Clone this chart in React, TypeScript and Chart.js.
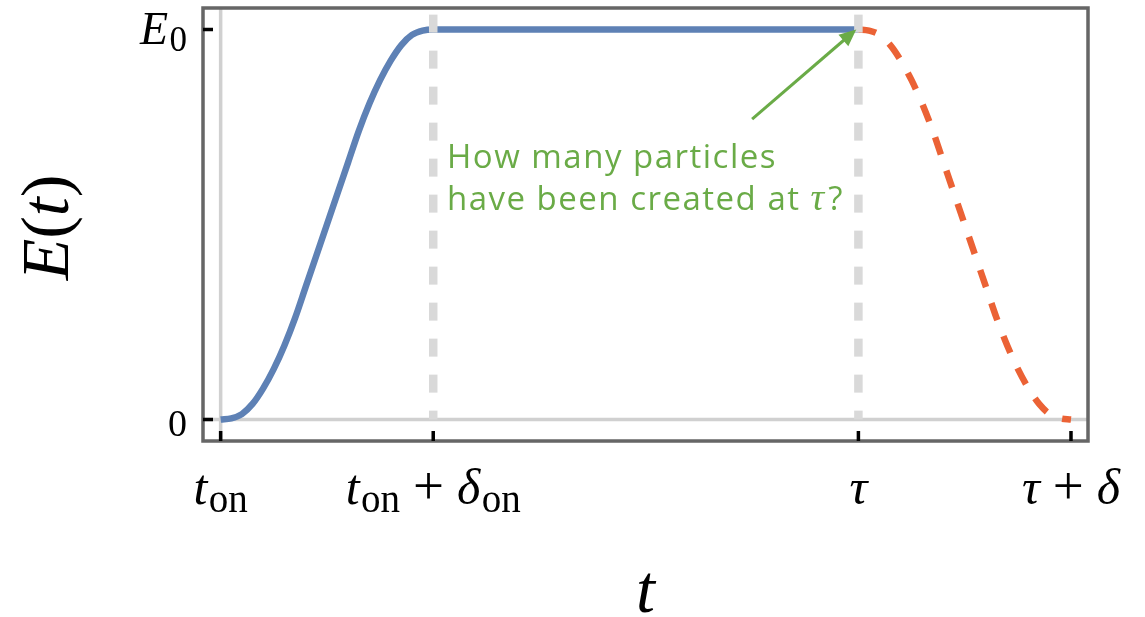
import React, { useEffect, useRef } from "react";
import { Chart, registerables } from "chart.js";

Chart.register(...registerables);

// Switch-on ramp of E(t)/E0 with t_on = 0, δ_on = 1, then the plateau up to τ = 3
const rampTimes = [0, 0.05, 0.1, 0.15, 0.2, 0.25, 0.3, 0.35, 0.4, 0.45, 0.5, 0.55, 0.6, 0.65, 0.7, 0.75, 0.8, 0.85, 0.9, 0.95, 1.0, 3.0];
const rampField = [0, 0.003, 0.014, 0.04, 0.08, 0.13, 0.19, 0.26, 0.34, 0.42, 0.5, 0.58, 0.66, 0.74, 0.81, 0.87, 0.92, 0.96, 0.986, 0.997, 1, 1];

// Switch-off from τ = 3 down to zero at τ + δ = 4
const offTimes = [3.0, 3.05, 3.1, 3.15, 3.2, 3.25, 3.3, 3.35, 3.4, 3.45, 3.5, 3.55, 3.6, 3.65, 3.7, 3.75, 3.8, 3.85, 3.9, 3.95, 4.0];
const offField = [1, 0.997, 0.986, 0.96, 0.92, 0.87, 0.81, 0.74, 0.66, 0.58, 0.5, 0.42, 0.34, 0.26, 0.19, 0.13, 0.08, 0.04, 0.014, 0.003, 0];

// Dashed guides at t_on + δ_on and τ
const guideTimes = [1, 3];
const guideTop = 1.038;

// Axis ranges
const X_MIN = -0.083;
const X_MAX = 4.08;
const Y_MIN = -0.055;
const Y_MAX = 1.055;

type Part = { t: string; s: "i" | "r" | "sub" | "op" };

const xTickValues = [0, 1, 3, 4];
const xTickLabels: Part[][] = [
  [{ t: "t", s: "i" }, { t: "on", s: "sub" }],
  [{ t: "t", s: "i" }, { t: "on", s: "sub" }, { t: "+", s: "op" }, { t: "δ", s: "i" }, { t: "on", s: "sub" }],
  [{ t: "τ", s: "i" }],
  [{ t: "τ", s: "i" }, { t: "+", s: "op" }, { t: "δ", s: "i" }],
];

const yTickValues = [0, 1];
const yTickLabels: Part[][] = [
  [{ t: "0", s: "r" }],
  [{ t: "E", s: "i" }, { t: "0", s: "sub" }],
];
const yTickSizes = [38, 46];

const xTitle: Part[] = [{ t: "t", s: "i" }];
const yTitle: Part[] = [{ t: "E", s: "i" }, { t: "(", s: "r" }, { t: "t", s: "i" }, { t: ")", s: "r" }];

const noteLines = ["How many particles", "have been created at "];
const noteSymbol = "τ";
const noteTail = "?";
const noteAnchor = { x: 1.0645, y1: 0.646, y2: 0.536 };
const arrowFrom = { x: 2.5, y: 0.77 };
const arrowTo = { x: 2.99, y: 1.0 };

const SERIF = '"Liberation Serif", "Times New Roman", serif';
const SANS = '"Open Sans", "Noto Sans", sans-serif';
const GREEN = "#6aab47";

function drawMath(
  ctx: CanvasRenderingContext2D,
  parts: Part[],
  x: number,
  baseline: number,
  align: "center" | "right" | "left",
  size: number,
  subSize: number
) {
  const pieces = parts.map((p) => {
    let font = `${size}px ${SERIF}`;
    if (p.s === "i") font = `italic ${size}px ${SERIF}`;
    if (p.s === "sub") font = `${subSize}px ${SERIF}`;
    if (p.s === "op") font = `${Math.round(size * 1.1)}px ${SERIF}`;
    ctx.font = font;
    const w = ctx.measureText(p.t).width;
    const pad = p.s === "op" ? size * 0.26 : 0;
    const dy = p.s === "sub" ? size * 0.15 : 0;
    const pre = p.s === "sub" ? size * 0.03 : 0;
    return { font, w, pad, dy, pre, t: p.t };
  });
  const total = pieces.reduce((s, p) => s + p.w + 2 * p.pad + p.pre, 0);
  let cx = align === "center" ? x - total / 2 : align === "right" ? x - total : x;
  ctx.textAlign = "left";
  ctx.textBaseline = "alphabetic";
  pieces.forEach((p) => {
    ctx.font = p.font;
    ctx.fillText(p.t, cx + p.pad + p.pre, baseline + p.dy);
    cx += p.w + 2 * p.pad + p.pre;
  });
}

const decorations = {
  id: "decorations",
  afterDraw(chart: any) {
    const { ctx, chartArea: a, scales } = chart;
    const xs = scales.x;
    const ys = scales.y;
    ctx.save();

    // frame
    ctx.strokeStyle = "#666666";
    ctx.lineWidth = 3.5;
    ctx.strokeRect(a.left, a.top, a.right - a.left, a.bottom - a.top);

    // inward ticks
    ctx.strokeStyle = "#000000";
    ctx.lineWidth = 3.5;
    ctx.beginPath();
    xTickValues.forEach((v) => {
      const px = xs.getPixelForValue(v);
      ctx.moveTo(px, a.bottom);
      ctx.lineTo(px, a.bottom - 10);
    });
    yTickValues.forEach((v) => {
      const py = ys.getPixelForValue(v);
      ctx.moveTo(a.left, py);
      ctx.lineTo(a.left + 10, py);
    });
    ctx.stroke();

    // tick labels
    ctx.fillStyle = "#000000";
    xTickValues.forEach((v, i) => {
      drawMath(ctx, xTickLabels[i], xs.getPixelForValue(v), a.bottom + 63, "center", 50, 39);
    });
    yTickValues.forEach((v, i) => {
      const py = ys.getPixelForValue(v);
      const size = yTickSizes[i];
      drawMath(ctx, yTickLabels[i], a.left - 16, py + (i === 0 ? 16 : 15), "right", size, 35);
    });

    // axis titles
    drawMath(ctx, xTitle, (a.left + a.right) / 2, 612, "center", 68, 40);
    ctx.save();
    ctx.translate(68, (a.top + a.bottom) / 2 + 3);
    ctx.rotate(-Math.PI / 2);
    drawMath(ctx, yTitle, 0, 0, "center", 68, 40);
    ctx.restore();

    // annotation text
    const nx = xs.getPixelForValue(noteAnchor.x);
    const ny1 = ys.getPixelForValue(noteAnchor.y1);
    const ny2 = ys.getPixelForValue(noteAnchor.y2);
    ctx.fillStyle = GREEN;
    ctx.textAlign = "left";
    ctx.textBaseline = "alphabetic";
    (ctx as any).letterSpacing = "1.5px";
    ctx.font = `33px ${SANS}`;
    ctx.fillText(noteLines[0], nx, ny1);
    ctx.fillText(noteLines[1], nx, ny2);
    let tx = nx + ctx.measureText(noteLines[1]).width;
    (ctx as any).letterSpacing = "0px";
    ctx.font = `italic 38px ${SERIF}`;
    ctx.fillText(noteSymbol, tx, ny2);
    tx += ctx.measureText(noteSymbol).width + 4;
    ctx.font = `33px ${SANS}`;
    ctx.fillText(noteTail, tx, ny2);

    // arrow
    const x0 = xs.getPixelForValue(arrowFrom.x);
    const y0 = ys.getPixelForValue(arrowFrom.y);
    const x1 = xs.getPixelForValue(arrowTo.x);
    const y1 = ys.getPixelForValue(arrowTo.y);
    const ang = Math.atan2(y1 - y0, x1 - x0);
    const headLen = 17;
    const headW = 7.5;
    const bx = x1 - headLen * Math.cos(ang);
    const by = y1 - headLen * Math.sin(ang);
    ctx.strokeStyle = GREEN;
    ctx.lineWidth = 3;
    ctx.beginPath();
    ctx.moveTo(x0, y0);
    ctx.lineTo(bx + 2 * Math.cos(ang), by + 2 * Math.sin(ang));
    ctx.stroke();
    ctx.beginPath();
    ctx.moveTo(x1, y1);
    ctx.lineTo(bx + headW * Math.sin(ang), by - headW * Math.cos(ang));
    ctx.lineTo(bx - headW * Math.sin(ang), by + headW * Math.cos(ang));
    ctx.closePath();
    ctx.fillStyle = GREEN;
    ctx.fill();

    ctx.restore();
  },
};

export default function App() {
  const ref = useRef<HTMLCanvasElement>(null);

  useEffect(() => {
    const canvas = ref.current;
    if (!canvas) return;

    const straight = { tension: 0, pointRadius: 0, borderCapStyle: "butt" as const };

    const chart = new Chart(canvas, {
      type: "line",
      data: {
        datasets: [
          {
            label: "axis-t",
            data: [{ x: X_MIN, y: 0 }, { x: X_MAX, y: 0 }],
            borderColor: "#d0d0d0",
            borderWidth: 3.5,
            order: 5,
            ...straight,
          },
          {
            label: "axis-E",
            data: [{ x: 0, y: Y_MIN }, { x: 0, y: Y_MAX }],
            borderColor: "#d0d0d0",
            borderWidth: 3.5,
            order: 5,
            ...straight,
          },
          {
            label: "switch-on",
            data: rampTimes.map((t, i) => ({ x: t, y: rampField[i] })),
            borderColor: "#5e81b5",
            borderWidth: 6.5,
            cubicInterpolationMode: "monotone",
            pointRadius: 0,
            borderCapStyle: "butt",
            order: 3,
          },
          {
            label: "switch-off",
            data: offTimes.map((t, i) => ({ x: t, y: offField[i] })),
            borderColor: "#eb6235",
            borderWidth: 6.5,
            borderDash: [18, 17],
            cubicInterpolationMode: "monotone",
            pointRadius: 0,
            borderCapStyle: "butt",
            order: 3,
          },
          ...guideTimes.map((t) => ({
            label: `guide-${t}`,
            data: [{ x: t, y: guideTop }, { x: t, y: 0 }],
            borderColor: "#d9d9d9",
            borderWidth: 8.5,
            borderDash: [18, 18],
            order: 1,
            ...straight,
          })),
        ],
      },
      options: {
        animation: false,
        responsive: false,
        devicePixelRatio: 1,
        events: [],
        layout: { padding: { left: 203, top: 8, right: 57, bottom: 176 } },
        plugins: { legend: { display: false }, tooltip: { enabled: false } },
        scales: {
          x: { type: "linear", min: X_MIN, max: X_MAX, display: false },
          y: { type: "linear", min: Y_MIN, max: Y_MAX, display: false },
        },
      },
      plugins: [decorations],
    } as any);

    return () => chart.destroy();
  }, []);

  return (
    <div style={{ position: "fixed", left: 0, top: 0, width: 1145, height: 617, background: "#ffffff" }}>
      <canvas ref={ref} width={1145} height={617} style={{ display: "block", width: 1145, height: 617 }} />
    </div>
  );
}
